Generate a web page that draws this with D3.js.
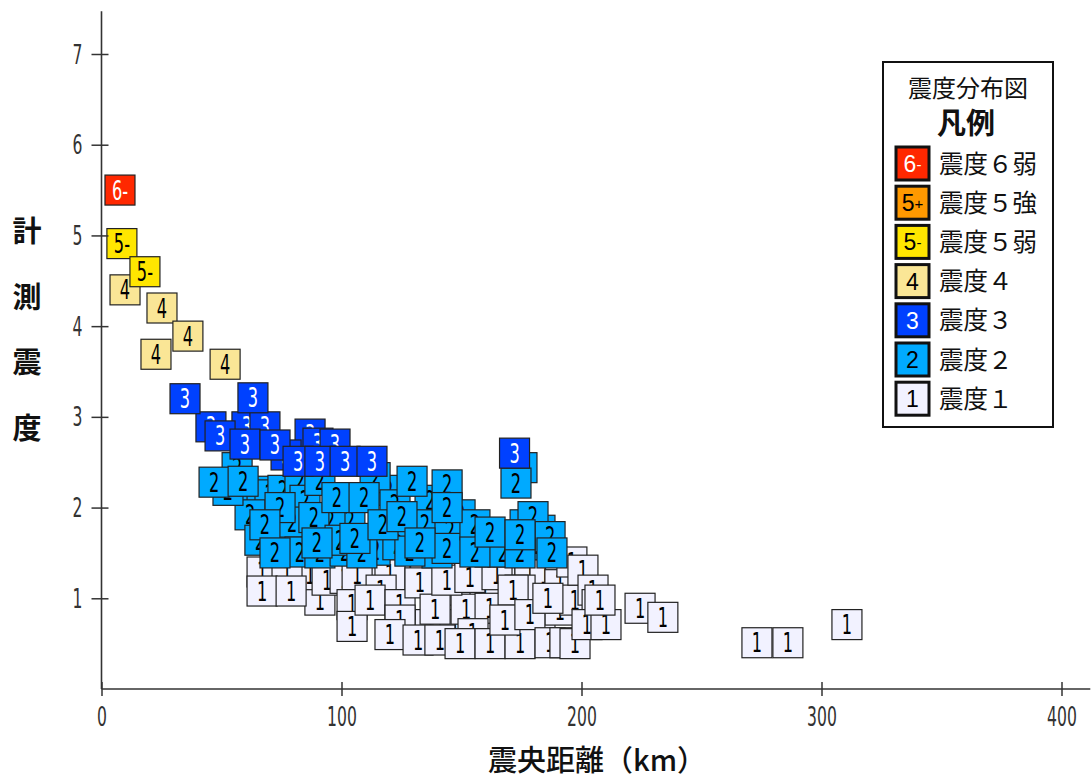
<!DOCTYPE html>
<html>
<head>
<meta charset="utf-8">
<script src="https://cdn.jsdelivr.net/npm/d3@7"></script>
<style>
  body { margin: 0; background: #fff; }
  svg { display: block; }
</style>
</head>
<body>
<svg id="chart" width="1091" height="778"></svg>
<script>
// Station readings: epicentral distance (km) and instrumental seismic intensity.
// Grouped by intensity class; within a group, stations are drawn in list order.
const distance1 = [116.0, 128.5, 141.0, 153.5, 166.0, 178.5, 184.8, 191.0, 136.9, 147.3, 157.7, 182.7,
  91.0, 86.9, 120.2, 149.4, 159.8, 178.5, 191.0, 197.3,
  66.9, 77.3, 66.9, 79.0, 94.0, 101.5, 106.5, 104.4, 104.4, 116.5, 111.9, 124.4, 124.4, 120.2,
  132.7, 131.9, 141.0, 139.0, 151.9, 161.9, 143.9, 153.5, 164.8, 174.4, 171.5, 154.8, 168.5,
  149.4, 161.9, 174.4, 168.1, 178.5, 186.0, 186.9, 193.1, 197.3, 196.0, 200.6, 204.8, 206.5,
  202.3, 210.2, 207.7, 224.4, 233.9, 273.1, 286.0, 310.6];
const intensity1 = [1.40, 1.40, 1.37, 1.37, 1.37, 1.31, 1.26, 1.15, 0.71, 0.71, 0.76, 0.65,
  0.98, 1.26, 1.26, 1.09, 1.09, 0.98, 0.87, 0.98,
  1.29, 1.29, 1.08, 1.08, 1.20, 1.22, 1.26, 0.93, 0.69, 1.09, 0.98, 0.93, 0.76, 0.60,
  1.17, 0.54, 0.54, 0.88, 0.88, 0.89, 1.20, 1.23, 1.26, 1.09, 1.09, 0.61, 0.60,
  0.50, 0.50, 0.50, 0.76, 0.82, 1.00, 0.51, 0.51, 0.50, 1.40, 1.31, 1.09, 0.93,
  0.71, 0.71, 0.98, 0.89, 0.79, 0.51, 0.51, 0.71];

const distance2 = [56.5, 64.8, 66.9, 70.2, 75.6, 82.7, 84.8, 91.0, 103.5, 95.2, 119.4, 114.0,
  122.3, 136.9, 144.0, 151.5, 61.9, 52.7, 134.8, 149.4, 159.8, 180.6, 182.7, 175.2,
  176.5, 179.8, 186.9, 78.5, 66.0, 79.4, 82.7, 91.0, 101.5, 88.5, 99.4, 114.0, 108.5,
  123.5, 139.8, 128.5, 145.2, 144.0, 155.6, 161.9, 167.3, 174.4,
  46.9, 59.0, 74.4, 68.1, 72.3, 89.8, 98.1, 109.4, 105.6, 117.3, 125.2, 129.4, 132.7,
  144.0, 155.6, 161.9, 174.4, 187.7, 172.7];
const intensity2 = [2.44, 2.18, 2.03, 2.14, 2.19, 2.30, 2.08, 2.30, 1.86, 1.86, 2.19, 2.33,
  2.03, 2.08, 2.25, 1.64, 1.92, 2.19, 1.81, 1.92, 1.59, 1.59, 1.75, 2.44,
  1.81, 1.90, 1.68, 1.59, 1.64, 1.84, 1.51, 1.50, 1.52, 1.89, 1.64, 1.53, 1.50,
  1.59, 1.50, 1.52, 1.75, 1.55, 1.81, 1.51, 1.51, 1.50,
  2.28, 2.29, 2.00, 1.81, 1.50, 1.61, 2.11, 2.11, 1.66, 1.81, 1.90, 2.29, 1.61,
  2.00, 1.51, 1.73, 1.70, 1.50, 2.27];

const distance3 = [45.6, 60.6, 68.1, 86.9, 90.2, 76.9, 34.8, 63.1, 49.4, 59.8, 72.3, 97.3,
  81.9, 91.0, 101.5, 112.7, 172.1];
const intensity3 = [2.89, 2.89, 2.89, 2.81, 2.71, 2.58, 3.20, 3.21, 2.79, 2.70, 2.69, 2.70,
  2.51, 2.51, 2.51, 2.51, 2.60];

const distance4 = [9.8, 25.2, 36.0, 22.7, 51.5];
const intensity4 = [4.40, 4.20, 3.89, 3.69, 3.58];

const distance5L = [8.5, 18.1];
const intensity5L = [4.91, 4.60];

const distance6L = [7.7];
const intensity6L = [5.50];

// Intensity classes, lowest first
const classLabels = ["1", "2", "3", "4", "5-", "5+", "6-"];
const classColors = ["#F2F2FF", "#00AAFF", "#0041FF", "#FAE696", "#FFE600", "#FF9900", "#FF2800"];
const classTextColors = ["#000", "#000", "#fff", "#000", "#000", "#000", "#fff"];
const classLower = [1.5, 2.5, 3.5, 4.5, 5.0, 5.5]; // lower bounds of classes 2 .. 6-

// Legend (top to bottom)
const legendCodes = ["6-", "5+", "5-", "4", "3", "2", "1"];
const legendNames = ["震度６弱", "震度５強", "震度５弱", "震度４", "震度３", "震度２", "震度１"];

const xTicks = [0, 100, 200, 300, 400];
const yTicks = [1, 2, 3, 4, 5, 6, 7];

const svg = d3.select("#chart");
svg.append("rect").attr("width", 1091).attr("height", 778).attr("fill", "#fff");

const x = d3.scaleLinear().domain([0, 400]).range([101.5, 1061.5]);
const y = d3.scaleLinear().domain([0, 7]).range([689, 54]);
const xEnd = 412, yEnd = 7.47;

const BOX = 30;
const digitFont = "'DejaVu Sans', sans-serif";
const axisColor = "#333";

// ---- stations ----
const groups = [
  [distance1, intensity1], [distance2, intensity2], [distance3, intensity3],
  [distance4, intensity4], [distance5L, intensity5L], [distance6L, intensity6L]
];
const stations = [];
groups.forEach(([ds, is]) => ds.forEach((d, i) => {
  const v = is[i];
  stations.push({ dist: d, inten: v, cls: d3.bisectRight(classLower, v) });
}));

const marks = svg.append("g").attr("class", "stations");
const st = marks.selectAll("g").data(stations).join("g")
  .attr("transform", d => `translate(${x(d.dist)},${y(d.inten)})`);
st.append("rect")
  .attr("x", -BOX / 2).attr("y", -BOX / 2)
  .attr("width", BOX).attr("height", BOX)
  .attr("fill", d => classColors[d.cls])
  .attr("stroke", "#222").attr("stroke-width", 1.2);
st.append("text")
  .attr("transform", "translate(0,9.5) scale(0.6,1)")
  .attr("text-anchor", "middle")
  .attr("font-family", digitFont)
  .attr("font-size", 27)
  .attr("fill", d => classTextColors[d.cls])
  .text(d => classLabels[d.cls]);

// ---- axes ----
const yAxis = svg.append("g").attr("transform", `translate(${x(0)},0)`)
  .call(d3.axisLeft(y).tickValues(yTicks).tickSize(10).tickFormat(d3.format("d")));
yAxis.select(".domain").remove();
yAxis.selectAll(".tick line").attr("x1", 7).attr("x2", -10)
  .attr("stroke", axisColor).attr("stroke-width", 1.5);
yAxis.selectAll(".tick text").remove();
yAxis.append("line").attr("x1", 0).attr("x2", 0).attr("y1", y(0)).attr("y2", y(yEnd))
  .attr("stroke", axisColor).attr("stroke-width", 1.6);
yAxis.selectAll(".tick").append("text")
  .attr("transform", "translate(-24,9) scale(0.6,1)")
  .attr("text-anchor", "middle")
  .attr("font-family", digitFont).attr("font-size", 26)
  .attr("fill", "#333")
  .text(d => d);

const xAxis = svg.append("g").attr("transform", `translate(0,${y(0)})`)
  .call(d3.axisBottom(x).tickValues(xTicks).tickSize(7).tickFormat(d3.format("d")));
xAxis.select(".domain").remove();
xAxis.selectAll(".tick line").attr("y1", -7).attr("y2", 7)
  .attr("stroke", axisColor).attr("stroke-width", 1.5);
xAxis.selectAll(".tick text").remove();
xAxis.append("line").attr("x1", x(0)).attr("x2", x(xEnd)).attr("y1", 0).attr("y2", 0)
  .attr("stroke", axisColor).attr("stroke-width", 1.6);
xAxis.selectAll(".tick").append("text")
  .attr("transform", "translate(0,37) scale(0.6,1)")
  .attr("text-anchor", "middle")
  .attr("font-family", digitFont).attr("font-size", 26)
  .attr("fill", "#333")
  .text(d => d);

// ---- axis titles ----
const cjk = "'Noto Sans CJK JP', 'Noto Sans CJK SC', sans-serif";
const yTitle = ["計", "測", "震", "度"];
svg.append("g").selectAll("text").data(yTitle).join("text")
  .attr("x", 27).attr("y", (d, i) => 242 + i * 65.5)
  .attr("text-anchor", "middle")
  .attr("font-family", cjk).attr("font-weight", 700).attr("font-size", 29)
  .attr("fill", "#111")
  .text(d => d);

svg.append("text")
  .attr("x", 597).attr("y", 771)
  .attr("text-anchor", "middle")
  .attr("font-family", cjk).attr("font-weight", 500).attr("font-size", 29)
  .attr("fill", "#111")
  .text("震央距離（km）");

// ---- legend ----
const lg = svg.append("g").attr("class", "legend");
lg.append("rect").attr("x", 883).attr("y", 62).attr("width", 170).attr("height", 365)
  .attr("fill", "#fff").attr("stroke", "#111").attr("stroke-width", 2);
lg.append("text").attr("x", 968).attr("y", 97).attr("text-anchor", "middle")
  .attr("font-family", cjk).attr("font-size", 24).attr("fill", "#111").text("震度分布図");
lg.append("text").attr("x", 966).attr("y", 134).attr("text-anchor", "middle")
  .attr("font-family", cjk).attr("font-weight", 700).attr("font-size", 29).attr("fill", "#111").text("凡例");

const rows = lg.selectAll("g.row").data(legendCodes).join("g").attr("class", "row")
  .attr("transform", (d, i) => `translate(0,${163.5 + i * 39.2})`);
rows.append("rect")
  .attr("x", 896).attr("y", -16.5).attr("width", 33).attr("height", 33)
  .attr("fill", d => classColors[classLabels.indexOf(d)])
  .attr("stroke", "#111").attr("stroke-width", 3);
const sw = rows.append("text")
  .attr("x", 912.5).attr("y", 8.5).attr("text-anchor", "middle")
  .attr("font-family", "'Liberation Sans', Arial, sans-serif").attr("font-size", 23)
  .attr("fill", d => classTextColors[classLabels.indexOf(d)]);
sw.append("tspan").text(d => d.charAt(0));
sw.append("tspan").attr("font-size", 15).attr("dy", -2).text(d => d.length > 1 ? d.charAt(1) : "");
rows.append("text")
  .attr("x", 939).attr("y", 9)
  .attr("font-family", cjk).attr("font-size", 24.5).attr("fill", "#111")
  .text((d, i) => legendNames[i]);
</script>
</body>
</html>
